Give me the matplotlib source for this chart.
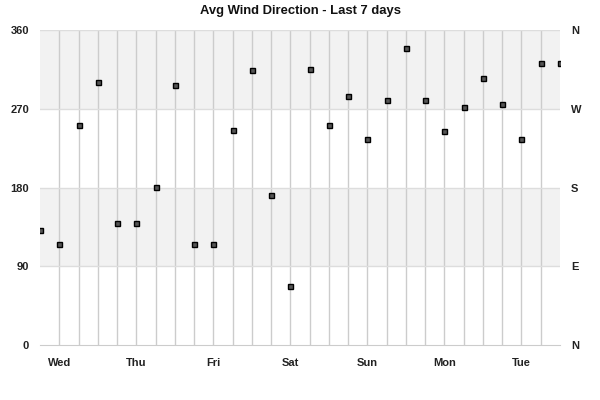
import matplotlib.pyplot as plt
import numpy as np

plt.rcParams['font.family'] = ['Liberation Sans', 'DejaVu Sans']

title = 'Avg Wind Direction - Last 7 days'
# one reading every 6 hours, first one at 18:00 the day before Wed
direction = [131, 116, 251, 301, 139, 139, 181, 297, 116, 116, 246, 314, 172, 68,
             315, 252, 285, 236, 280, 340, 280, 245, 272, 305, 276, 236, 322, 322]
day_labels = ['Wed', 'Thu', 'Fri', 'Sat', 'Sun', 'Mon', 'Tue']
day_index = [1, 5, 9, 13, 17, 21, 25]
y_ticks = [0, 90, 180, 270, 360]
compass = ['N', 'E', 'S', 'W', 'N']

x = np.arange(len(direction))

fig = plt.figure(figsize=(6, 4), dpi=100)
ax = fig.add_axes([40 / 600, 55 / 400, 520 / 600, 315 / 400])

ax.axhspan(90, 180, color='#f2f2f2', zorder=0, lw=0)
ax.axhspan(270, 360, color='#f2f2f2', zorder=0, lw=0)
for v in x[1:-1]:
    ax.axvline(v, color='#cccccc', lw=1, zorder=1)
for v in [90, 180, 270, 360]:
    ax.axhline(v, color='#dddddd', lw=1, zorder=1)

ax.plot(x, direction, ls='none', marker='s', ms=3.6, mfc='#555555', mec='black',
        mew=1, zorder=3)

ax.set_xlim(0, len(direction) - 1)
ax.set_ylim(0, 360)
for s in ['top', 'left', 'right']:
    ax.spines[s].set_visible(False)
ax.spines['bottom'].set_color('#cccccc')

ax.set_xticks(day_index)
ax.set_xticklabels(day_labels, fontsize=8, fontweight='bold', color='#222222')
ax.set_yticks(y_ticks)
ax.set_yticklabels([str(t) for t in y_ticks], fontsize=8, fontweight='bold',
                   color='#222222')
ax.tick_params(axis='both', length=0)
ax.tick_params(axis='x', pad=9)
ax.tick_params(axis='y', pad=8)

ax2 = ax.twinx()
ax2.set_ylim(0, 360)
ax2.set_yticks(y_ticks)
ax2.set_yticklabels(compass, fontsize=8, fontweight='bold', color='#222222')
ax2.tick_params(length=0, pad=8)
for s in ax2.spines.values():
    s.set_visible(False)

fig.text(0.5, 1 - 11 / 400, title, ha='center', va='center', fontsize=9.4,
         fontweight='bold', color='#111111')

fig.savefig('out.png')
